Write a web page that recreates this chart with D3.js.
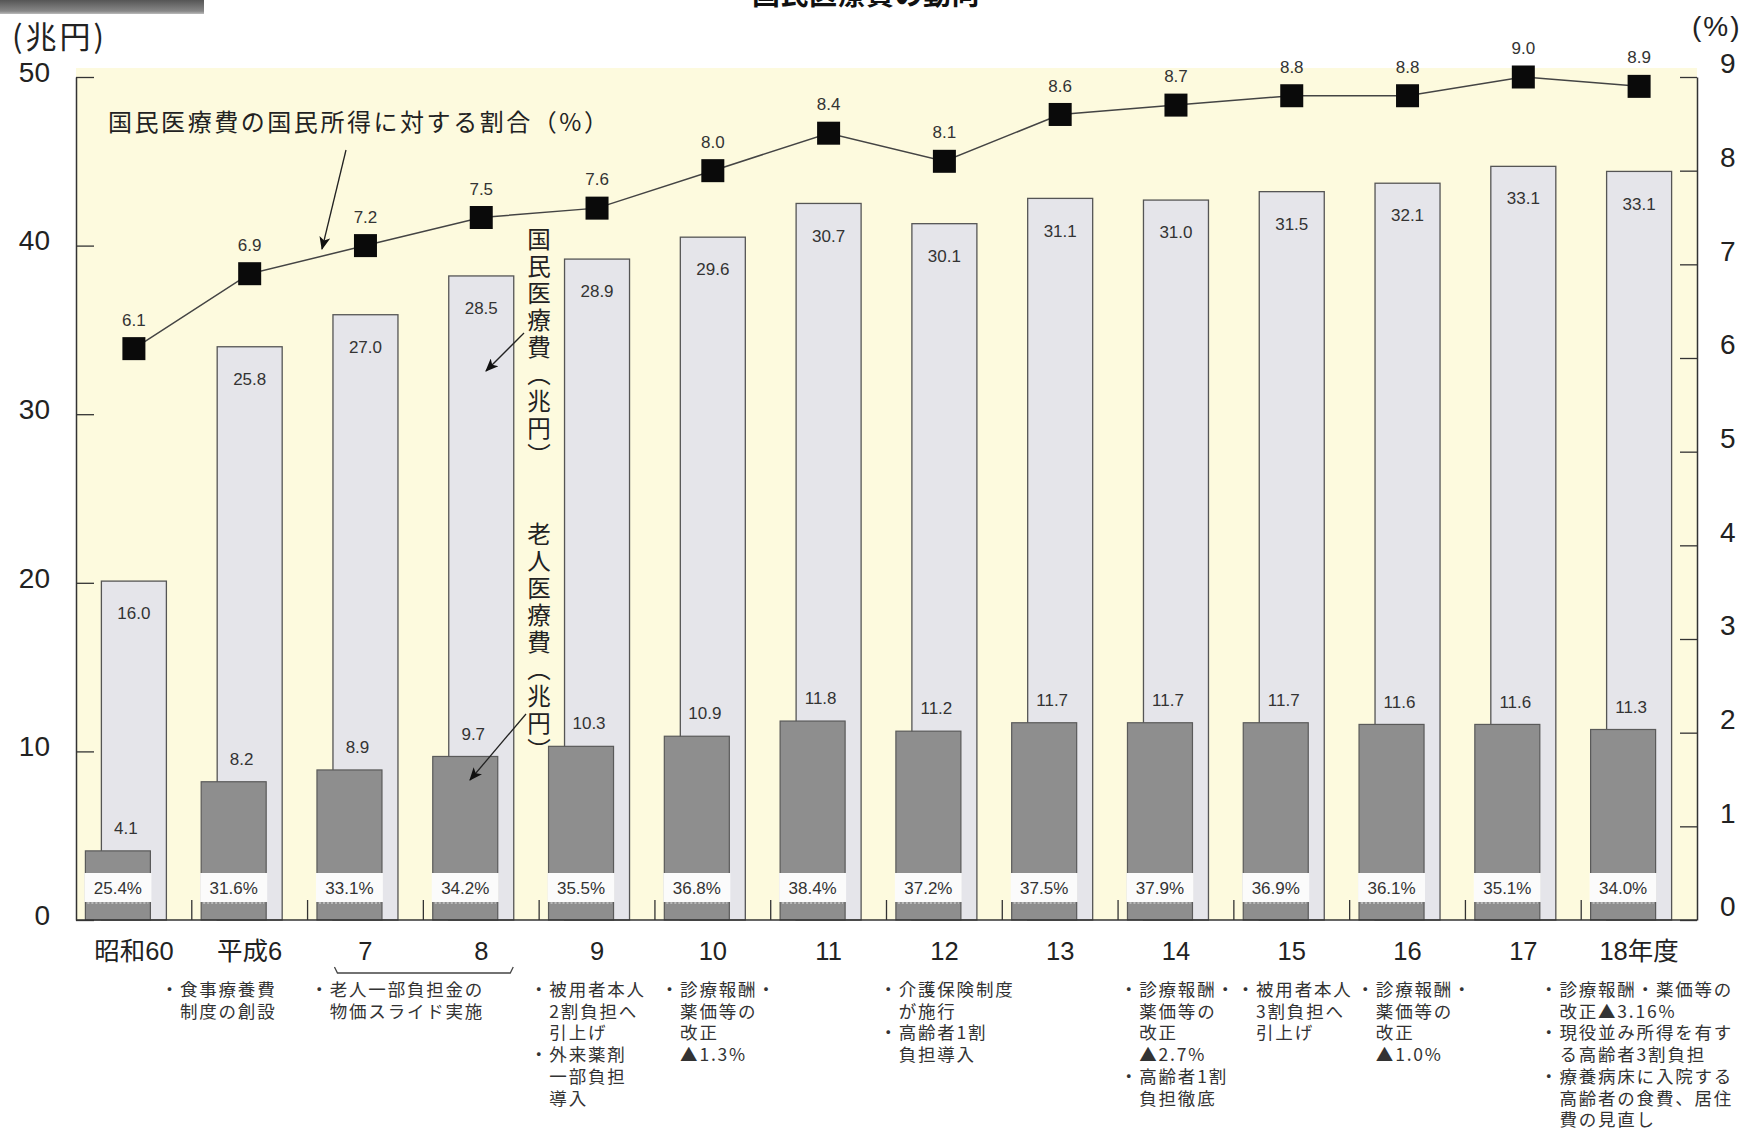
<!DOCTYPE html>
<html><head><meta charset="utf-8">
<script src="https://cdn.jsdelivr.net/npm/d3@7"></script>
<style>
body{margin:0;background:#fff}
svg{display:block}
text{font-family:"Liberation Sans","Noto Sans CJK JP",sans-serif;}
.jp{font-family:"Noto Sans CJK JP","Liberation Sans",sans-serif;}
</style>
</head><body>
<svg id="chart" width="1749" height="1132"></svg>
<script>
// ---- data ----
const categories = ["昭和60","平成6","7","8","9","10","11","12","13","14","15","16","17","18年度"];
const nationalCost = [16.0,25.8,27.0,28.5,28.9,29.6,30.7,30.1,31.1,31.0,31.5,32.1,33.1,33.1];   // 国民医療費（兆円）
const elderlyCost  = [4.1,8.2,8.9,9.7,10.3,10.9,11.8,11.2,11.7,11.7,11.7,11.6,11.6,11.3];       // 老人医療費（兆円）
const incomeRatio  = [6.1,6.9,7.2,7.5,7.6,8.0,8.4,8.1,8.6,8.7,8.8,8.8,9.0,8.9];                 // 国民所得に対する割合（%）
const elderlyShare = [25.4,31.6,33.1,34.2,35.5,36.8,38.4,37.2,37.5,37.9,36.9,36.1,35.1,34.0];   // 老人医療費の割合（%）
const leftTicks  = [0,10,20,30,40,50];
const rightTicks = [0,1,2,3,4,5,6,7,8,9];
const noteCats  = ["平成6","7","9","10","12","14","15","16","18年度"];
const noteTexts = [
  ["・食事療養費","　制度の創設"],
  ["・老人一部負担金の","　物価スライド実施"],
  ["・被用者本人","　2割負担へ","　引上げ","・外来薬剤","　一部負担","　導入"],
  ["・診療報酬・","　薬価等の","　改正","　▲1.3%"],
  ["・介護保険制度","　が施行","・高齢者1割","　負担導入"],
  ["・診療報酬・","　薬価等の","　改正","　▲2.7%","・高齢者1割","　負担徹底"],
  ["・被用者本人","　3割負担へ","　引上げ"],
  ["・診療報酬・","　薬価等の","　改正","　▲1.0%"],
  ["・診療報酬・薬価等の","　改正▲3.16%","・現役並み所得を有す","　る高齢者3割負担","・療養病床に入院する","　高齢者の食費、居住","　費の見直し"]
];

// ---- layout ----
const svg = d3.select("#chart");
const X0 = 76, X1 = 1697, Y0 = 920, YT = 77;
const x = d3.scaleBand().domain(categories).range([X0, X1]).padding(0);
const yL = d3.scaleLinear().domain([0, 50]).range([Y0, YT]);
const yR = d3.scaleLinear().domain([0, 9]).range([Y0, YT]);
const bw = x.bandwidth();
const barW = 65;
const cx = c => x(c) + bw / 2;

// defs
const defs = svg.append("defs");
defs.append("marker").attr("id","arr").attr("viewBox","0 0 12 10")
  .attr("refX",11).attr("refY",5).attr("markerWidth",15).attr("markerHeight",11)
  .attr("markerUnits","userSpaceOnUse").attr("orient","auto")
  .append("path").attr("d","M0,0 L12,5 L0,10 L3,5 Z").attr("fill","#111");
const hg = defs.append("linearGradient").attr("id","hdr").attr("x1",0).attr("x2",0).attr("y1",0).attr("y2",1);
hg.append("stop").attr("offset","0%").attr("stop-color","#555");
hg.append("stop").attr("offset","80%").attr("stop-color","#888");
hg.append("stop").attr("offset","100%").attr("stop-color","#bbb");

// header bar + truncated title
svg.append("rect").attr("x",0).attr("y",0).attr("width",204).attr("height",14).attr("fill","url(#hdr)");
svg.append("text").attr("class","jp").attr("x",866).attr("y",5).attr("text-anchor","middle")
  .attr("font-size",28).attr("font-weight","bold").attr("fill","#111").attr("letter-spacing",0.5)
  .text("国民医療費の動向");

// plot background
svg.append("rect").attr("x",X0).attr("y",68).attr("width",X1-X0).attr("height",Y0-68).attr("fill","#fdfade");

// light bars (国民医療費) stacked on top of elderly value
svg.append("g").selectAll("rect").data(categories).join("rect")
  .attr("x", c => cx(c) - barW/2)
  .attr("y", (c,i) => yL(elderlyCost[i] + nationalCost[i]))
  .attr("width", barW)
  .attr("height", (c,i) => Y0 - yL(elderlyCost[i] + nationalCost[i]))
  .attr("fill","#e5e5ea").attr("stroke","#555").attr("stroke-width",1.3);

// dark bars (老人医療費)
svg.append("g").selectAll("rect").data(categories).join("rect")
  .attr("x", c => cx(c) - barW/2 - 16)
  .attr("y", (c,i) => yL(elderlyCost[i]))
  .attr("width", barW)
  .attr("height", (c,i) => Y0 - yL(elderlyCost[i]))
  .attr("fill","#8e8e8e").attr("stroke","#5a5a5a").attr("stroke-width",1.2);

// white label boxes for share
svg.append("g").selectAll("rect").data(categories).join("rect")
  .attr("x", c => cx(c) - barW/2 - 16 - 1)
  .attr("y", Y0 - 47).attr("width", barW + 2).attr("height", 29)
  .attr("fill","#fbfbfb");
svg.append("g").selectAll("line").data(categories).join("line")
  .attr("x1", c => cx(c) - barW/2 - 14).attr("x2", c => cx(c) + barW/2 - 18)
  .attr("y1", Y0 - 17).attr("y2", Y0 - 17)
  .attr("stroke","#c8c8c8").attr("stroke-dasharray","2,2").attr("stroke-width",1.5);
svg.append("g").selectAll("text").data(categories).join("text")
  .attr("x", c => cx(c) - 16).attr("y", Y0 - 32).attr("dy","0.36em")
  .attr("text-anchor","middle").attr("font-size",17).attr("fill","#333")
  .text((c,i) => elderlyShare[i].toFixed(1) + "%");

// value labels
svg.append("g").selectAll("text").data(categories).join("text")
  .attr("x", c => cx(c)).attr("y", (c,i) => yL(elderlyCost[i] + nationalCost[i]) + 32).attr("dy","0.36em")
  .attr("text-anchor","middle").attr("font-size",17).attr("fill","#333")
  .text((c,i) => nationalCost[i].toFixed(1));
svg.append("g").selectAll("text").data(categories).join("text")
  .attr("x", c => cx(c) - 8).attr("y", (c,i) => yL(elderlyCost[i]) - 23).attr("dy","0.36em")
  .attr("text-anchor","middle").attr("font-size",17).attr("fill","#333")
  .text((c,i) => elderlyCost[i].toFixed(1));

// small band separators at baseline
svg.append("g").selectAll("line").data(categories.slice(1)).join("line")
  .attr("x1", c => x(c)).attr("x2", c => x(c)).attr("y1", Y0).attr("y2", Y0 - 20)
  .attr("stroke","#333").attr("stroke-width",1.3);

// baseline
svg.append("line").attr("x1",X0).attr("x2",X1).attr("y1",Y0).attr("y2",Y0).attr("stroke","#333").attr("stroke-width",1.5);

// left axis
const gl = svg.append("g").attr("transform",`translate(${X0},0)`)
  .call(d3.axisLeft(yL).tickValues(leftTicks).tickSize(-18).tickSizeOuter(0).tickPadding(26));
gl.select(".domain").attr("stroke","#333").attr("stroke-width",1.5);
gl.selectAll(".tick line").attr("stroke","#333").attr("stroke-width",1.3);
gl.selectAll(".tick text").attr("font-size",28).attr("fill","#222").attr("dy","0.15em")
  .style("font-family","'Liberation Sans',sans-serif");

// right axis
const gr = svg.append("g").attr("transform",`translate(${X1},0)`)
  .call(d3.axisRight(yR).tickValues(rightTicks).tickSize(-17).tickSizeOuter(0).tickPadding(23));
gr.select(".domain").attr("stroke","#333").attr("stroke-width",1.5);
gr.selectAll(".tick line").attr("stroke","#333").attr("stroke-width",1.3);
gr.selectAll(".tick text").attr("font-size",28).attr("fill","#222").attr("dy","-0.15em")
  .style("font-family","'Liberation Sans',sans-serif");

// axis unit labels
svg.append("text").attr("class","jp").attr("x",12).attr("y",37).attr("dy","0.35em")
  .attr("font-size",31).attr("letter-spacing",3).attr("fill","#222").text("(兆円)");
svg.append("text").attr("x",1692).attr("y",26).attr("dy","0.35em")
  .attr("font-size",28).attr("letter-spacing",2).attr("fill","#222").text("(%)");

// x category labels
svg.append("g").selectAll("text").data(categories).join("text")
  .attr("x", c => cx(c)).attr("y", 951).attr("dy","0.36em")
  .attr("text-anchor","middle").attr("font-size",25.5).attr("fill","#222")
  .text(c => c);

// ratio line
const line = d3.line().x(c => cx(c)).y((c,i) => yR(incomeRatio[i]));
svg.append("path").datum(categories).attr("d", line)
  .attr("fill","none").attr("stroke","#444").attr("stroke-width",1.5);
svg.append("g").selectAll("rect").data(categories).join("rect")
  .attr("x", c => cx(c) - 11.5).attr("y", (c,i) => yR(incomeRatio[i]) - 11.5)
  .attr("width",23).attr("height",23).attr("fill","#0a0a0a");
svg.append("g").selectAll("text").data(categories).join("text")
  .attr("x", c => cx(c)).attr("y", (c,i) => yR(incomeRatio[i]) - 29).attr("dy","0.36em")
  .attr("text-anchor","middle").attr("font-size",17).attr("fill","#333")
  .text((c,i) => incomeRatio[i].toFixed(1));

// annotations
svg.append("text").attr("class","jp").attr("x",108).attr("y",123).attr("dy","0.35em")
  .attr("font-size",24).attr("fill","#222").attr("textLength",500).attr("lengthAdjust","spacing")
  .text("国民医療費の国民所得に対する割合（%）");
svg.append("line").attr("x1",346).attr("y1",150).attr("x2",322).attr("y2",249)
  .attr("stroke","#222").attr("stroke-width",1.3).attr("marker-end","url(#arr)");

svg.append("text").attr("class","jp").attr("x",539).attr("y",227)
  .style("writing-mode","vertical-rl").attr("font-size",23.5).attr("letter-spacing",3.5).attr("fill","#222")
  .text("国民医療費（兆円）");
svg.append("line").attr("x1",524).attr("y1",333).attr("x2",486).attr("y2",371)
  .attr("stroke","#222").attr("stroke-width",1.3).attr("marker-end","url(#arr)");
svg.append("text").attr("class","jp").attr("x",539).attr("y",522)
  .style("writing-mode","vertical-rl").attr("font-size",23.5).attr("letter-spacing",3.5).attr("fill","#222")
  .text("老人医療費（兆円）");
svg.append("line").attr("x1",526).attr("y1",714).attr("x2",470).attr("y2",780)
  .attr("stroke","#222").attr("stroke-width",1.3).attr("marker-end","url(#arr)");

// bracket under 7-8
svg.append("path").attr("d",`M${cx("7")-31},967 L${cx("7")-28},973 L${cx("8")+29},973 L${cx("8")+32},967`)
  .attr("fill","none").attr("stroke","#444").attr("stroke-width",1.3);

// notes
const noteOffset = {"平成6":-89,"7":-55,"9":-67,"10":-52,"12":-65,"14":-56,"15":-55,"16":-51,"18年度":-99};
noteCats.forEach((c, k) => {
  const t = svg.append("text").attr("class","jp").attr("font-size",17.5).attr("fill","#333")
    .attr("letter-spacing",1.8);
  noteTexts[k].forEach((ln, j) => {
    t.append("tspan").attr("x", cx(c) + noteOffset[c]).attr("y", 996 + j*21.7).text(ln);
  });
});
</script>
</body></html>
